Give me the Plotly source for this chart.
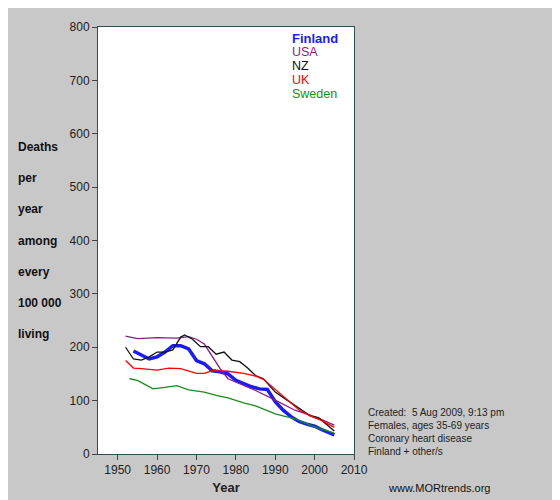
import plotly.graph_objects as go

fin_x = [1954,1956,1958,1960,1962,1964,1966,1968,1970,1972,1974,1976,1978,1980,1982,1984,1986,1988,1990,1992,1994,1996,1998,2000,2002,2005]
fin_y = [193,186,178,182,191,203,203,197,175,169,156,154,150,138,132,126,122,121,98,82,70,61,56,52,45,36]
usa_x = [1952,1955,1960,1965,1968,1970,1972,1974,1976,1978,1980,1985,1990,1995,2000,2005]
usa_y = [221,216,218,217,220,215,206,184,160,141,135,119,101,82,70,54]
nz_x = [1952,1954,1956,1958,1960,1962,1964,1966,1967,1969,1971,1973,1975,1977,1979,1981,1983,1985,1987,1990,1993,1996,1999,2001,2003,2005]
nz_y = [200,178,176,182,191,191,195,219,223,215,201,201,187,191,176,173,161,147,141,116,101,86,71,68,56,43]
uk_x = [1952,1954,1956,1960,1963,1966,1970,1972,1974,1978,1982,1985,1987,1990,1993,1996,1999,2002,2005]
uk_y = [175,161,160,157,161,160,151,151,156,155,151,146,140,121,101,83,71,62,50]
swe_x = [1953,1955,1957,1959,1962,1965,1968,1972,1975,1978,1982,1985,1990,1995,2000,2005]
swe_y = [141,138,130,122,125,128,120,116,110,105,96,90,75,66,51,39]

series = [("Finland", fin_x, fin_y, "#1a1aff", 3.5),
          ("USA", usa_x, usa_y, "#8b1a8b", 1.3),
          ("NZ", nz_x, nz_y, "#111111", 1.3),
          ("UK", uk_x, uk_y, "#ff0000", 1.3),
          ("Sweden", swe_x, swe_y, "#1a8c1a", 1.3)]

fig = go.Figure()
for name, x, y, c, w in series:
    fig.add_trace(go.Scatter(x=x, y=y, mode="lines", name=name, line=dict(color=c, width=w)))

font = "Arial, Liberation Sans, sans-serif"
for i, (name, x, y, c, w) in enumerate(series):
    fig.add_annotation(xref="paper", yref="paper", x=0.75, y=0.995 - i*0.0325, xanchor="left", yanchor="top",
                       text=f"<b>{name}</b>" if name == "Finland" else name, showarrow=False,
                       font=dict(color=c, size=13 if name == "Finland" else 12.5, family=font))

fig.add_annotation(xref="paper", yref="paper", x=-0.32, y=0.5, xanchor="left", yanchor="middle", align="left",
                   text="<b>Deaths<br><br>per<br><br>year<br><br>among<br><br>every<br><br>100 000<br><br>living</b>",
                   showarrow=False, font=dict(size=12, color="#111", family=font))
fig.add_annotation(xref="paper", yref="paper", x=1.047, y=0.115, xanchor="left", yanchor="top", align="left",
                   text="Created:  5 Aug 2009, 9:13 pm<br>Females, ages 35-69 years<br>Coronary heart disease<br>Finland + other/s",
                   showarrow=False, font=dict(size=10, color="#222", family=font))
fig.add_annotation(xref="paper", yref="paper", x=1.125, y=-0.06, xanchor="left", yanchor="top",
                   text="www.MORtrends.org", showarrow=False, font=dict(size=11, color="#111", family=font))

fig.update_layout(width=560, height=500, paper_bgcolor="#c8c8c8", plot_bgcolor="white",
                  margin=dict(l=90, r=214, t=15, b=54), showlegend=False,
                  font=dict(family=font, size=12, color="#222"))
fig.update_xaxes(range=[1945, 2010], tickvals=[1950,1960,1970,1980,1990,2000,2010], ticks="outside", ticklen=5,
                 showgrid=False, zeroline=False, showline=True, linecolor="#2f4f4f", mirror=True,
                 title=dict(text="<b>Year</b>", font=dict(size=13), standoff=6))
fig.update_yaxes(range=[0, 800], dtick=100, ticks="outside", ticklen=5, showgrid=False, zeroline=False,
                 showline=True, linecolor="#2f4f4f", mirror=True)
fig.write_html("out.html")
